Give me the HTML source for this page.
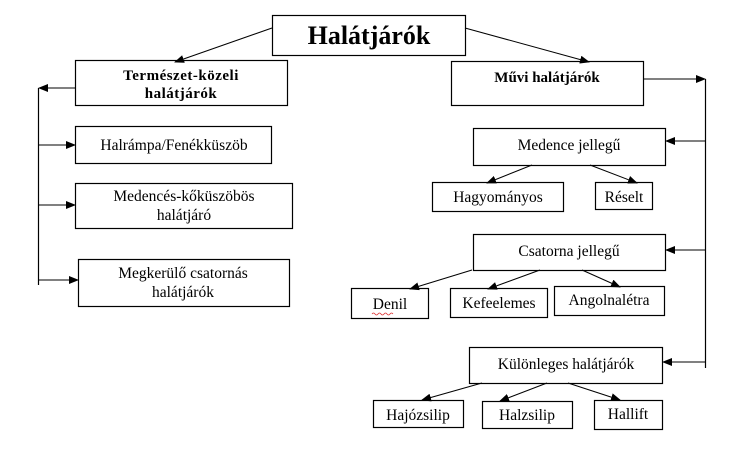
<!DOCTYPE html>
<html><head><meta charset="utf-8">
<style>
html,body{margin:0;padding:0;background:#fff;width:739px;height:476px;overflow:hidden}
svg{display:block}
text{font-family:"Liberation Serif",serif;fill:#000}
</style></head><body>
<svg width="739" height="476" viewBox="0 0 739 476" xmlns="http://www.w3.org/2000/svg">
<defs>
<marker id="a" markerWidth="10" markerHeight="8" refX="9" refY="4" orient="auto" markerUnits="userSpaceOnUse">
<path d="M0,0 L10,4 L0,8 z" fill="#000"/></marker>
</defs>
<g fill="none" stroke="#000" stroke-width="1.2">
<rect x="272.5" y="15.5" width="193" height="40"/>
<rect x="75.5" y="60.5" width="212" height="45"/>
<rect x="75.5" y="126.5" width="196" height="37"/>
<rect x="75.5" y="183.5" width="217" height="45"/>
<rect x="78.5" y="259.5" width="211" height="47"/>
<rect x="451.5" y="61.5" width="192" height="44"/>
<rect x="473.5" y="128.5" width="192" height="37"/>
<rect x="432.5" y="182.5" width="131" height="29"/>
<rect x="595.5" y="182.5" width="57" height="27"/>
<rect x="473.5" y="234.5" width="192" height="36"/>
<rect x="351.5" y="288.5" width="77" height="30"/>
<rect x="450.5" y="288.5" width="97" height="29"/>
<rect x="554.5" y="286.5" width="110" height="29"/>
<rect x="469.5" y="347.5" width="193" height="36"/>
<rect x="373.5" y="400.5" width="90" height="27"/>
<rect x="482.5" y="401.5" width="90" height="27"/>
<rect x="594.5" y="400.5" width="68" height="29"/>
</g>
<g fill="none" stroke="#000" stroke-width="1" marker-end="url(#a)">
<line x1="272" y1="28" x2="175" y2="62"/>
<line x1="465" y1="28" x2="589" y2="62"/>
<line x1="75" y1="88" x2="39" y2="88"/>
<line x1="38" y1="145" x2="75" y2="145"/>
<line x1="38" y1="205" x2="75" y2="205"/>
<line x1="38" y1="280" x2="78" y2="280"/>
<line x1="643" y1="79" x2="705" y2="79"/>
<line x1="705" y1="141" x2="666" y2="141"/>
<line x1="705" y1="250" x2="666" y2="250"/>
<line x1="705" y1="362" x2="663" y2="362"/>
<line x1="532" y1="165" x2="487" y2="183"/>
<line x1="590" y1="165" x2="637" y2="183"/>
<line x1="472" y1="270" x2="410" y2="289"/>
<line x1="540" y1="270" x2="488" y2="289"/>
<line x1="582" y1="270" x2="620" y2="287"/>
<line x1="482" y1="383" x2="422" y2="400"/>
<line x1="547" y1="383" x2="500" y2="401"/>
<line x1="568" y1="383" x2="620" y2="400"/>
</g>
<g stroke="#000" stroke-width="1.2">
<line x1="38.5" y1="88" x2="38.5" y2="285"/>
<line x1="705.5" y1="79" x2="705.5" y2="368"/>
</g>
<text x="369" y="44" font-size="26" font-weight="bold" text-anchor="middle">Halátjárók</text>
<text x="181" y="80" font-size="15" font-weight="bold" text-anchor="middle" letter-spacing="0.5">Természet-közeli</text>
<text x="181" y="98" font-size="15" font-weight="bold" text-anchor="middle" letter-spacing="0.5">halátjárók</text>
<text x="174" y="150" font-size="15.5" text-anchor="middle">Halrámpa/Fenékküszöb</text>
<text x="184" y="201" font-size="15.5" text-anchor="middle">Medencés-kőküszöbös</text>
<text x="184" y="220" font-size="15.5" text-anchor="middle">halátjáró</text>
<text x="183" y="278" font-size="15.5" text-anchor="middle">Megkerülő csatornás</text>
<text x="183" y="297" font-size="15.5" text-anchor="middle">halátjárók</text>
<text x="547" y="82" font-size="15" font-weight="bold" text-anchor="middle">Művi halátjárók</text>
<text x="569" y="150" font-size="15.5" text-anchor="middle">Medence jellegű</text>
<text x="498" y="202" font-size="15.5" text-anchor="middle">Hagyományos</text>
<text x="624" y="202" font-size="15.5" text-anchor="middle">Réselt</text>
<text x="569" y="256" font-size="15.5" text-anchor="middle">Csatorna jellegű</text>
<text x="390" y="309" font-size="15.5" text-anchor="middle">Denil</text>
<path d="M372,314 q1.5,-2 3,0 t3,0 t3,0 t3,0 t3,0 t3,0 t3,0" fill="none" stroke="#d33" stroke-width="0.8"/>
<text x="499" y="308" font-size="15.5" text-anchor="middle">Kefeelemes</text>
<text x="609" y="305" font-size="15.5" text-anchor="middle">Angolnalétra</text>
<text x="566" y="369" font-size="15.5" text-anchor="middle">Különleges halátjárók</text>
<text x="418" y="420" font-size="15.5" text-anchor="middle">Hajózsilip</text>
<text x="527" y="420" font-size="15.5" text-anchor="middle">Halzsilip</text>
<text x="628" y="419" font-size="15.5" text-anchor="middle">Hallift</text>
</svg>
</body></html>
